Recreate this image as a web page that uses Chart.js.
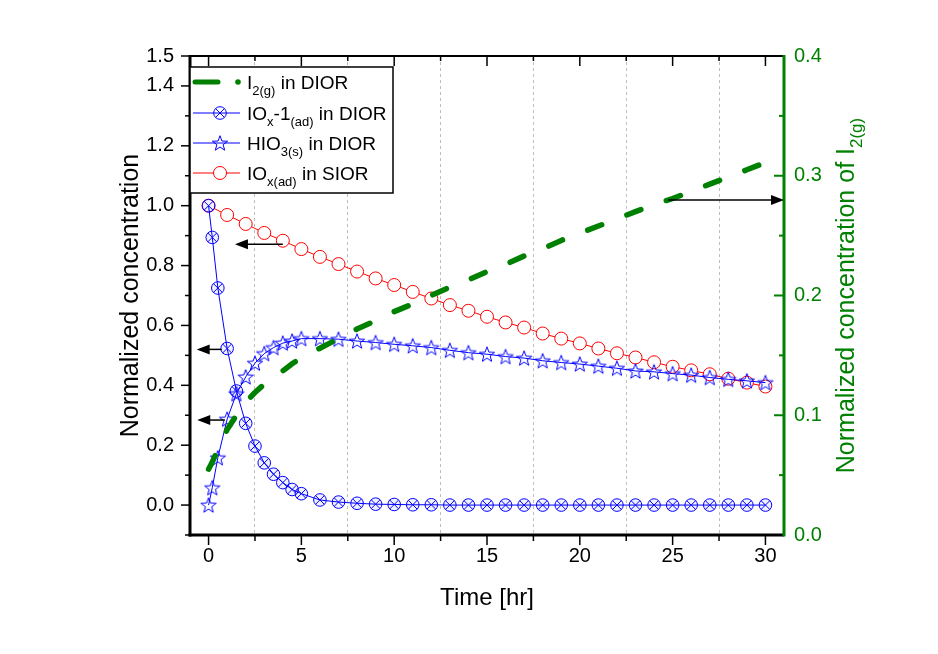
<!DOCTYPE html>
<html>
<head>
<meta charset="utf-8">
<script src="https://cdn.jsdelivr.net/npm/chart.js@4.4.0/dist/chart.umd.min.js"></script>
<style>
html,body{margin:0;padding:0;background:#fff;}
#wrap{width:938px;height:654px;}
</style>
</head>
<body>
<div id="wrap"><canvas id="c" width="938" height="654"></canvas></div>
<script>
// ---------- data ----------
const timeHours = [0, 0.2, 0.5, 1, 1.5, 2, 2.5, 3, 3.5, 4, 4.5, 5,
  6, 7, 8, 9, 10, 11, 12, 13, 14, 15, 16, 17, 18, 19, 20, 21, 22, 23, 24, 25, 26, 27, 28, 29, 30];
const timeHourly = [0, 1, 2, 3, 4, 5, 6, 7, 8, 9, 10, 11, 12, 13, 14, 15, 16, 17, 18, 19, 20,
  21, 22, 23, 24, 25, 26, 27, 28, 29, 30];

const iox1Dior = [1.000, 0.894, 0.725, 0.523, 0.381, 0.273, 0.197, 0.141, 0.103, 0.075, 0.052, 0.038,
  0.017, 0.010, 0.006, 0.003, 0.002, 0.001, 0.001, 0, 0, 0, 0, 0, 0, 0, 0, 0, 0, 0, 0, 0, 0, 0, 0, 0, 0];
const hio3Dior = [0, 0.058, 0.158, 0.287, 0.372, 0.428, 0.474, 0.506, 0.526, 0.541, 0.548, 0.556,
  0.556, 0.554, 0.548, 0.543, 0.537, 0.532, 0.526, 0.517, 0.509, 0.504, 0.496, 0.491, 0.482, 0.476,
  0.471, 0.464, 0.457, 0.448, 0.445, 0.439, 0.434, 0.426, 0.420, 0.415, 0.409];
const i2Dior = [0.055, 0.061, 0.071, 0.088, 0.100, 0.111, 0.119, 0.126, 0.132, 0.137, 0.143, 0.148,
  0.156, 0.164, 0.172, 0.179, 0.1865, 0.193, 0.200, 0.207, 0.213, 0.220, 0.226, 0.233, 0.239, 0.246,
  0.252, 0.258, 0.264, 0.270, 0.276, 0.281, 0.287, 0.293, 0.299, 0.305, 0.311];
const ioxSior = [1.000, 0.969, 0.939, 0.909, 0.883, 0.855, 0.829, 0.805, 0.780, 0.757, 0.735, 0.712,
  0.690, 0.668, 0.649, 0.629, 0.610, 0.593, 0.573, 0.556, 0.540, 0.523, 0.507, 0.493, 0.477, 0.462,
  0.450, 0.437, 0.422, 0.409, 0.396];

const xMajorTicks = [0, 5, 10, 15, 20, 25, 30];
const xMinorTicks = [2.5, 7.5, 12.5, 17.5, 22.5, 27.5];
const yLeftMajorTicks = [0, 0.2, 0.4, 0.6, 0.8, 1.0, 1.2, 1.4, 1.5];
const yLeftMinorTicks = [-0.1, 0.1, 0.3, 0.5, 0.7, 0.9, 1.1, 1.3];
const yRightMajorTicks = [0, 0.1, 0.2, 0.3, 0.4];
const yRightMinorTicks = [0.05, 0.15, 0.25, 0.35];

// annotation arrows (data units)
const arrowNotes = [
  {tail: 4.0, tip: 1.42, at: 0.871, axis: 'y'},
  {tail: 0.71, tip: -0.64, at: 0.520, axis: 'y'},
  {tail: 0.88, tip: -0.61, at: 0.284, axis: 'y'},
  {tail: 24.75, tip: 31, at: 0.2797, axis: 'y2'}
];

// ---------- styles ----------
const FONT = "'Liberation Sans', Arial, sans-serif";
const GREEN = '#008000';
const BLUE = '#0000ff';
const RED = '#ff0000';

function makeStar() {
  const c = document.createElement('canvas');
  c.width = 18; c.height = 18;
  const g = c.getContext('2d');
  g.strokeStyle = BLUE; g.lineWidth = 1;
  const cx = 9, cy = 9.7, R = 8, r = 3.3;
  g.beginPath();
  for (let i = 0; i < 10; i++) {
    const ang = -Math.PI / 2 + i * Math.PI / 5;
    const rad = i % 2 === 0 ? R : r;
    const px = cx + rad * Math.cos(ang), py = cy + rad * Math.sin(ang);
    if (i === 0) g.moveTo(px, py); else g.lineTo(px, py);
  }
  g.closePath(); g.stroke();
  return c;
}
const starImg = makeStar();

const toXY = (xs, ys) => xs.map((v, i) => ({x: v, y: ys[i]}));

// ---------- plugin: frame, ticks, arrows, legend, titles ----------
const decorations = {
  id: 'decorations',
  afterDatasetsDraw(chart) {
    const {ctx, chartArea: a, scales} = chart;
    const {x, y, y2} = scales;
    ctx.save();
    const seg = (x1, y1, x2, y2p, color, w, cap) => {
      ctx.beginPath(); ctx.strokeStyle = color; ctx.lineWidth = w; ctx.lineCap = cap || 'butt';
      ctx.moveTo(x1, y1); ctx.lineTo(x2, y2p); ctx.stroke();
    };
    // ticks
    xMajorTicks.forEach(v => {
      const p = x.getPixelForValue(v);
      seg(p, a.bottom, p, a.bottom + 10, '#000', 1.5);
      seg(p, a.top, p, a.top + 10, '#000', 1.5);
    });
    xMinorTicks.forEach(v => {
      const p = x.getPixelForValue(v);
      seg(p, a.bottom, p, a.bottom + 6, '#000', 1.5);
      seg(p, a.top, p, a.top + 5, '#000', 1.5);
    });
    yLeftMajorTicks.forEach(v => {
      const p = y.getPixelForValue(v);
      seg(a.left - 9, p, a.left, p, '#000', 1.5);
    });
    yLeftMinorTicks.forEach(v => {
      const p = y.getPixelForValue(v);
      seg(a.left - 5, p, a.left, p, '#000', 1.5);
    });
    yRightMajorTicks.forEach(v => {
      const p = y2.getPixelForValue(v);
      seg(a.right - 10, p, a.right, p, GREEN, 2);
    });
    yRightMinorTicks.forEach(v => {
      const p = y2.getPixelForValue(v);
      seg(a.right - 5, p, a.right, p, GREEN, 2);
    });
    // frame
    seg(a.left, a.top, a.right, a.top, '#000', 2);
    seg(a.left - 1.5, a.bottom, a.right, a.bottom, '#000', 3);
    seg(a.left, a.top - 1, a.left, a.bottom + 1.5, '#000', 3);
    seg(a.right, a.top - 1, a.right, a.bottom + 1.5, GREEN, 3);

    // arrows
    arrowNotes.forEach(n => {
      const sc = n.axis === 'y2' ? y2 : y;
      const py = sc.getPixelForValue(n.at);
      const tx = x.getPixelForValue(n.tail), hx = x.getPixelForValue(n.tip);
      const dir = Math.sign(hx - tx);
      seg(tx, py, hx - dir * 10, py, '#000', 1.5);
      ctx.beginPath(); ctx.fillStyle = '#000';
      ctx.moveTo(hx, py);
      ctx.lineTo(hx - dir * 13, py - 5);
      ctx.lineTo(hx - dir * 13, py + 5);
      ctx.closePath(); ctx.fill();
    });

    // legend box
    const lx = a.left, ly = a.top + 11, lw = 203, lh = 126;
    ctx.fillStyle = '#fff';
    ctx.fillRect(lx, ly, lw, lh);
    ctx.strokeStyle = '#000'; ctx.lineWidth = 1.5;
    ctx.strokeRect(lx, ly, lw, lh);
    const rowY = [ly + 15, ly + 46, ly + 76, ly + 106];
    const sx0 = lx + 3, sx1 = lx + 50, mx = lx + 30, tx0 = lx + 57;
    // row 1 green dashed sample
    seg(sx0 + 2, rowY[0], sx0 + 25, rowY[0], GREEN, 5, 'round');
    ctx.beginPath(); ctx.fillStyle = GREEN; ctx.arc(lx + 48, rowY[0], 2.8, 0, Math.PI * 2); ctx.fill();
    // row 2 crossed circle
    seg(sx0, rowY[1], sx1, rowY[1], BLUE, 1);
    ctx.beginPath(); ctx.strokeStyle = BLUE; ctx.lineWidth = 1;
    ctx.arc(mx, rowY[1], 6.3, 0, Math.PI * 2); ctx.stroke();
    const d = 6.3 / Math.SQRT2;
    seg(mx - d, rowY[1] - d, mx + d, rowY[1] + d, BLUE, 1);
    seg(mx + d, rowY[1] - d, mx - d, rowY[1] + d, BLUE, 1);
    // row 3
    seg(sx0, rowY[2], sx1, rowY[2], BLUE, 1);
    ctx.drawImage(starImg, Math.round(mx) - 9, Math.round(rowY[2]) - 9);
    // row 4
    seg(sx0, rowY[3], sx1, rowY[3], RED, 1);
    ctx.beginPath(); ctx.fillStyle = '#fff'; ctx.strokeStyle = RED; ctx.lineWidth = 1;
    ctx.arc(mx, rowY[3], 6.5, 0, Math.PI * 2); ctx.fill(); ctx.stroke();

    const rich = (parts, x0, base, color) => {
      let cx = x0;
      parts.forEach(p => {
        const sub = p[1];
        ctx.font = (sub ? '13px ' : '19px ') + FONT;
        ctx.fillStyle = color;
        ctx.textBaseline = 'alphabetic';
        ctx.textAlign = 'left';
        ctx.fillText(p[0], cx, base + (sub ? 6 : 0));
        cx += ctx.measureText(p[0]).width;
      });
    };
    rich([['I'], ['2(g)', 1], [' in DIOR']], tx0, rowY[0] + 7, '#000');
    rich([['IO'], ['x', 1], ['-1'], ['(ad)', 1], [' in DIOR']], tx0, rowY[1] + 7, '#000');
    rich([['HIO'], ['3(s)', 1], [' in DIOR']], tx0, rowY[2] + 7, '#000');
    rich([['IO'], ['x(ad)', 1], [' in SIOR']], tx0, rowY[3] + 7, '#000');

    // axis titles
    ctx.fillStyle = '#000';
    ctx.font = '24px ' + FONT;
    ctx.textAlign = 'center'; ctx.textBaseline = 'middle';
    ctx.fillText('Time [hr]', (a.left + a.right) / 2, a.bottom + 63);

    ctx.save();
    ctx.translate(a.left - 59, (a.top + a.bottom) / 2);
    ctx.rotate(-Math.PI / 2);
    ctx.font = '25px ' + FONT;
    ctx.fillText('Normalized concentration', 0, 0);
    ctx.restore();

    ctx.save();
    ctx.translate(a.right + 61, (a.top + a.bottom) / 2);
    ctx.rotate(-Math.PI / 2);
    ctx.fillStyle = GREEN;
    ctx.textAlign = 'left'; ctx.textBaseline = 'alphabetic';
    ctx.font = '25px ' + FONT;
    const mainT = 'Normalized concentration of I';
    const w1 = ctx.measureText(mainT).width;
    ctx.font = '17px ' + FONT;
    const w2 = ctx.measureText('2(g)').width;
    const start = -(w1 + w2) / 2;
    ctx.font = '25px ' + FONT;
    ctx.fillText(mainT, start, 9);
    ctx.font = '17px ' + FONT;
    ctx.fillText('2(g)', start + w1, 17);
    ctx.restore();

    ctx.restore();
  }
};

// ---------- chart ----------
new Chart(document.getElementById('c'), {
  type: 'line',
  data: {
    datasets: [
      {
        label: 'I2(g) in DIOR', yAxisID: 'y2',
        data: toXY(timeHours, i2Dior),
        borderColor: GREEN, borderWidth: 5.5, borderDash: [15, 27], borderCapStyle: 'round',
        pointRadius: 0, fill: false, tension: 0
      },
      {
        label: 'HIO3(s) in DIOR', yAxisID: 'y',
        data: toXY(timeHours, hio3Dior),
        borderColor: BLUE, borderWidth: 1, pointStyle: starImg, pointRadius: 8, fill: false, tension: 0
      },
      {
        label: 'IOx-1(ad) in DIOR (cross)', yAxisID: 'y',
        data: toXY(timeHours, iox1Dior),
        showLine: false, pointStyle: 'crossRot', pointRadius: 6.3,
        pointBorderColor: BLUE, pointBorderWidth: 1, fill: false
      },
      {
        label: 'IOx-1(ad) in DIOR', yAxisID: 'y',
        data: toXY(timeHours, iox1Dior),
        borderColor: BLUE, borderWidth: 1, pointStyle: 'circle', pointRadius: 6.3,
        pointBackgroundColor: 'rgba(0,0,255,0.06)', pointBorderColor: BLUE, pointBorderWidth: 1,
        fill: false, tension: 0
      },
      {
        label: 'IOx(ad) in SIOR', yAxisID: 'y',
        data: toXY(timeHourly, ioxSior),
        borderColor: RED, borderWidth: 1, pointStyle: 'circle', pointRadius: 6.5,
        pointBackgroundColor: '#fff', pointBorderColor: RED, pointBorderWidth: 1, fill: false, tension: 0
      }
    ]
  },
  options: {
    responsive: false,
    animation: false,
    devicePixelRatio: 1,
    layout: {padding: {top: 56, left: 0, right: 0, bottom: 0}},
    plugins: {legend: {display: false}, tooltip: {enabled: false}},
    scales: {
      x: {
        type: 'linear', min: -1, max: 31,
        afterBuildTicks: s => { s.ticks = [...xMajorTicks, ...xMinorTicks].sort((p, q) => p - q).map(v => ({value: v})); },
        afterFit: s => { s.height = 119; },
        ticks: {
          autoSkip: false, maxRotation: 0, padding: 9, color: '#000',
          font: {family: FONT, size: 20},
          callback: v => (xMajorTicks.includes(v) ? String(v) : '')
        },
        grid: {
          drawTicks: false, drawOnChartArea: true, lineWidth: 1,
          color: c => (c.tick && xMinorTicks.includes(c.tick.value)) ? '#bdbdbd' : 'rgba(0,0,0,0)'
        },
        border: {display: false, dash: [3, 3]}
      },
      y: {
        type: 'linear', position: 'left', min: -0.1, max: 1.5,
        afterBuildTicks: s => { s.ticks = yLeftMajorTicks.map(v => ({value: v})); },
        afterFit: s => { s.width = 190; },
        ticks: {
          autoSkip: false, padding: 16, color: '#000',
          font: {family: FONT, size: 20},
          callback: v => Number(v).toFixed(1)
        },
        grid: {display: false, drawTicks: false},
        border: {display: false}
      },
      y2: {
        type: 'linear', position: 'right', min: 0, max: 0.4,
        afterBuildTicks: s => { s.ticks = yRightMajorTicks.map(v => ({value: v})); },
        afterFit: s => { s.width = 154; },
        ticks: {
          autoSkip: false, padding: 10, color: GREEN,
          font: {family: FONT, size: 20},
          callback: v => Number(v).toFixed(1)
        },
        grid: {display: false, drawTicks: false},
        border: {display: false}
      }
    }
  },
  plugins: [decorations]
});
</script>
</body>
</html>
